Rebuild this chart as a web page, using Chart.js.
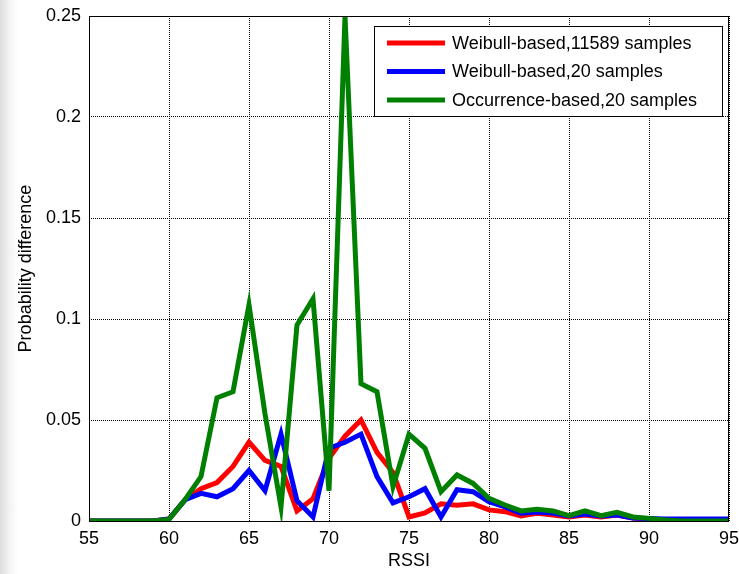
<!DOCTYPE html>
<html>
<head>
<meta charset="utf-8">
<script src="https://cdn.jsdelivr.net/npm/chart.js@4.4.1/dist/chart.umd.min.js"></script>
<style>
  html, body { margin: 0; padding: 0; }
  body { width: 739px; height: 574px; background: linear-gradient(to right, #dcdcdc 0px, #f4f4f4 10px, #fff 18px); }
  #wrap { width: 739px; height: 574px; position: relative; }
</style>
</head>
<body>
<div id="wrap"><canvas id="rssiChart"></canvas></div>
<script>
// RSSI values on the x axis
const rssi = [55, 56, 57, 58, 59, 60, 61, 62, 63, 64, 65, 66, 67, 68, 69, 70, 71, 72, 73, 74, 75,
              76, 77, 78, 79, 80, 81, 82, 83, 84, 85, 86, 87, 88, 89, 90, 91, 92, 93, 94, 95];

// Weibull-based, 11589 samples (red)
const weibullFull = [0, 0, 0, 0, 0, 0.001, 0.0105, 0.016, 0.019, 0.027, 0.039, 0.030, 0.027, 0.005, 0.011, 0.031,
                     0.042, 0.050, 0.034, 0.024, 0.002, 0.004, 0.0085, 0.0078, 0.0085, 0.0055, 0.0046, 0.0025,
                     0.0038, 0.003, 0.002, 0.003, 0.002, 0.003, 0.0015, 0.001, 0.0005, 0.0003, 0.0003, 0.0003, 0.0003];

// Weibull-based, 20 samples (blue)
const weibull20 = [0, 0, 0, 0, 0, 0.001, 0.0105, 0.0137, 0.012, 0.016, 0.025, 0.015, 0.043, 0.010, 0.002, 0.036,
                   0.039, 0.043, 0.022, 0.009, 0.012, 0.016, 0.002, 0.0155, 0.0145, 0.0095, 0.007, 0.0038,
                   0.0045, 0.004, 0.0025, 0.0035, 0.0025, 0.003, 0.0015, 0.0012, 0.001, 0.001, 0.001, 0.001, 0.001];

// Occurrence-based, 20 samples (green)
const occurrence20 = [0, 0, 0, 0, 0, 0.0008, 0.0105, 0.022, 0.061, 0.064, 0.107, 0.053, 0.007, 0.097, 0.110, 0.015,
                      0.25, 0.068, 0.064, 0.017, 0.043, 0.036, 0.0145, 0.0228, 0.0186, 0.0112, 0.0079, 0.005,
                      0.0058, 0.005, 0.0026, 0.005, 0.0026, 0.0043, 0.002, 0.0013, 0.0005, 0, 0, 0, 0];

const seriesLabels = ['Weibull-based,11589 samples', 'Weibull-based,20 samples', 'Occurrence-based,20 samples'];
const yTicks = [0, 0.05, 0.1, 0.15, 0.2, 0.25];

const FONT = 'Liberation Sans, Arial, Helvetica, sans-serif';

function toPoints(values) {
    return rssi.map((x, i) => ({ x: x, y: values[i] }));
}

// box around plot + legend drawn inside the axes, MATLAB style
const boxLegend = {
    id: 'boxLegend',
    afterDatasetsDraw(chart) {
        const { ctx, chartArea: a } = chart;
        ctx.save();
        ctx.strokeStyle = '#000';
        ctx.lineWidth = 1;
        ctx.strokeRect(a.left + 0.5, a.top + 0.5, a.right - a.left - 1, a.bottom - a.top);

        const bx = a.right - 355, by = a.top + 10, bw = 348, bh = 90;
        ctx.fillStyle = '#fff';
        ctx.fillRect(bx, by, bw, bh);
        ctx.strokeRect(bx + 0.5, by + 0.5, bw, bh);
        ctx.font = '18px ' + FONT;
        ctx.textBaseline = 'middle';
        chart.data.datasets.forEach((ds, i) => {
            const y = by + 17 + i * 28.5;
            ctx.strokeStyle = ds.borderColor;
            ctx.lineWidth = 5;
            ctx.beginPath();
            ctx.moveTo(bx + 13, y);
            ctx.lineTo(bx + 71, y);
            ctx.stroke();
            ctx.fillStyle = '#000';
            ctx.fillText(ds.label, bx + 78, y + 1);
        });
        ctx.restore();
    }
};

const gridStyle = {
    color: '#000',
    lineWidth: 1,
    drawTicks: false
};

new Chart(document.getElementById('rssiChart').getContext('2d'), {
    type: 'line',
    data: {
        datasets: [
            { label: seriesLabels[0], data: toPoints(weibullFull), borderColor: '#ff0000', order: 2 },
            { label: seriesLabels[1], data: toPoints(weibull20), borderColor: '#0000ff', order: 1 },
            { label: seriesLabels[2], data: toPoints(occurrence20), borderColor: '#008000', order: 0 }
        ]
    },
    options: {
        responsive: true,
        maintainAspectRatio: false,
        animation: false,
        layout: { padding: { top: 16, right: 10, left: 0, bottom: 0 } },
        elements: {
            line: { borderWidth: 5, tension: 0, fill: false },
            point: { radius: 0 }
        },
        scales: {
            x: {
                type: 'linear',
                min: 55,
                max: 95,
                border: { display: false, dash: [1, 1] },
                grid: gridStyle,
                ticks: { stepSize: 5, padding: 7, color: '#000', font: { family: FONT, size: 18 } },
                title: { display: true, text: 'RSSI', color: '#000', padding: { top: 0, bottom: 2 },
                         font: { family: FONT, size: 18 } },
                afterFit(scale) {
                    scale.height = 53;
                    scale.paddingLeft = 0;
                    scale.paddingRight = 0;
                }
            },
            y: {
                type: 'linear',
                min: 0,
                max: 0.25,
                border: { display: false, dash: [1, 1] },
                grid: gridStyle,
                afterBuildTicks(scale) { scale.ticks = yTicks.map(v => ({ value: v })); },
                ticks: {
                    padding: 8,
                    color: '#000',
                    font: { family: FONT, size: 18 },
                    callback: v => String(parseFloat(v.toFixed(2)))
                },
                title: { display: true, text: 'Probability difference', color: '#000', padding: { top: 15, bottom: 0 },
                         font: { family: FONT, size: 18 } },
                afterFit(scale) {
                    scale.width = 89;
                    scale.paddingTop = 0;
                    scale.paddingBottom = 0;
                }
            }
        },
        plugins: {
            legend: { display: false },
            tooltip: { enabled: false }
        }
    },
    plugins: [boxLegend]
});
</script>
</body>
</html>
